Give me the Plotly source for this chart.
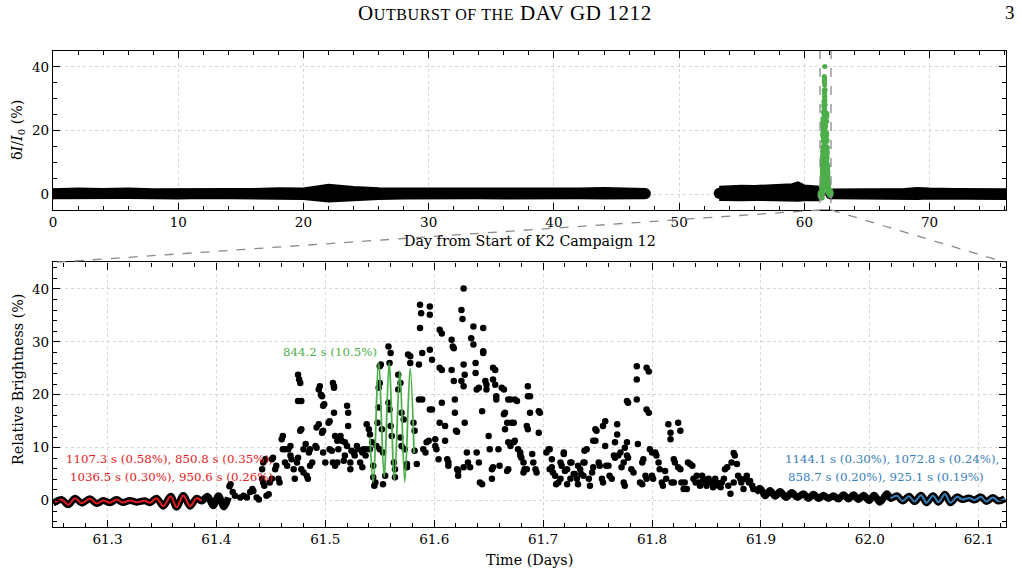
import plotly.graph_objects as go

SERIF = "DejaVu Serif"
RED, GREEN, BLUE = "#e41a1c", "#4daf4a", "#377eb8"

# ---------------- top panel: full campaign light curve (band envelopes) ----------------
seg1_x = [0, 2, 4, 6, 8, 10, 12, 14, 16, 18, 20, 22, 24, 26, 28, 30, 32, 34, 36, 38, 40, 42, 44, 46, 47.3]
seg1_up = [1.6, 1.8, 1.7, 1.8, 1.6, 1.7, 1.8, 1.7, 1.7, 1.9, 1.8, 3.0, 2.3, 1.9, 1.8, 1.8, 1.9, 1.7, 1.8, 1.9, 1.8, 1.8, 2.0, 1.9, 1.7]
seg1_lo = [-1.4, -1.3, -1.4, -1.3, -1.4, -1.5, -1.3, -1.4, -1.5, -1.4, -1.6, -2.4, -2.0, -1.6, -1.5, -1.4, -1.5, -1.4, -1.5, -1.4, -1.5, -1.4, -1.5, -1.5, -1.4]

seg2_x = [53.2, 54, 55, 56, 57, 58, 59, 59.5, 60, 61.2]
seg2_up = [2.4, 2.6, 2.7, 2.6, 2.8, 2.9, 3.2, 3.8, 2.8, 2.4]
seg2_lo = [-1.9, -2.0, -2.0, -1.9, -2.0, -2.1, -2.1, -2.2, -2.0, -2.0]

seg3_x = [62.1, 64, 66, 68, 69, 70, 72, 74, 76.1]
seg3_up = [1.5, 1.5, 1.6, 1.7, 2.0, 1.8, 1.7, 1.6, 1.6]
seg3_lo = [-1.4, -1.5, -1.5, -1.5, -1.6, -1.5, -1.5, -1.6, -1.6]

# ---------------- lower panel: outburst on day ~61.5 ----------------
# quiet pre-outburst pulsation (extrema) + 4-mode fit (red)
red_x = [61.2518, 61.2579, 61.2640, 61.2702, 61.2763, 61.2839, 61.2901, 61.2962, 61.3023, 61.3084,
         61.3139, 61.3207, 61.3268, 61.3344, 61.3390, 61.3451, 61.3513, 61.3580, 61.3635, 61.3696,
         61.3758, 61.3819, 61.3865]
red_y = [-0.31, 0.2, -0.81, 0.45, -0.49, 0.32, -0.56, 0.01, -0.43, 0.2,
         -0.37, 0.01, -0.31, -0.05, -0.43, 0.45, -1.06, 0.82, -1.25, 0.95,
         -1.06, 0.45, -0.1]
pre_x = [61.392, 61.397, 61.402, 61.407, 61.411]
pre_y = [0.8, -1.0, 0.9, -1.2, 0.6]

# quiet post-outburst pulsation + 4-mode fit (blue)
post_x = [61.8947, 61.8993, 61.9039, 61.9084, 61.9130, 61.9176, 61.9231, 61.9283, 61.9335, 61.9390,
          61.9436, 61.9482, 61.9528, 61.9574, 61.9620, 61.9666, 61.9712, 61.9758, 61.9804, 61.9850,
          61.9896, 61.9941, 61.9993, 62.0039, 62.0094, 62.0156]
post_y = [1.5, 2.3, 0.9, 1.9, 0.8, 1.7, 0.6, 1.5, 0.6, 1.3,
          0.4, 1.2, 0.4, 1.0, 0.4, 0.9, 0.3, 1.1, 0.3, 1.1,
          0.2, 1.0, 0.0, 1.0, -0.3, 1.3]
blue_x = [62.019, 62.025, 62.030, 62.036, 62.041, 62.047, 62.052, 62.058, 62.063, 62.069,
          62.074, 62.080, 62.085, 62.091, 62.096, 62.102, 62.107, 62.113, 62.118, 62.124]
blue_y = [0.4, 0.9, -0.1, 0.8, -0.2, 1.0, -0.4, 0.9, -0.3, 1.2,
          -0.4, 0.7, 0.2, 0.5, 0.1, 0.7, -0.2, 0.6, -0.1, 0.4]

# single-mode fit during outburst (green, 844.2 s)
green_x = [61.541, 61.544, 61.549, 61.554, 61.5586, 61.5635, 61.5684, 61.573, 61.5779, 61.5815]
green_y = [12, 3.5, 26, 4.5, 26, 3.8, 24.5, 3.5, 25, 9]

# outburst photometry
rise_x = [61.412, 61.413, 61.415, 61.417, 61.422, 61.425, 61.428, 61.431, 61.433, 61.434,
          61.437, 61.439, 61.442, 61.443, 61.444, 61.443, 61.445, 61.442, 61.446, 61.448,
          61.449, 61.451, 61.451, 61.452, 61.454, 61.455, 61.457, 61.458, 61.460, 61.461,
          61.461, 61.463, 61.463, 61.465, 61.466, 61.468, 61.468, 61.469, 61.471, 61.472,
          61.474, 61.475, 61.475, 61.476, 61.477, 61.475, 61.478, 61.477, 61.478, 61.478,
          61.480, 61.480, 61.482, 61.483, 61.484, 61.485, 61.486, 61.486, 61.488, 61.491,
          61.492, 61.492, 61.494, 61.494, 61.495, 61.497, 61.496, 61.497, 61.498, 61.498,
          61.499, 61.498, 61.500, 61.503, 61.504, 61.504, 61.506, 61.507, 61.508, 61.508,
          61.508, 61.507, 61.509, 61.509, 61.511]
rise_y = [2.7, 3.1, 1.6, 0.9, 0.6, 0.9, 0.6, 1.6, 2.2, 1.8,
          0.6, 0.2, 4.1, 3.4, 2.8, 7.2, 7.8, 5.9, 0.9, 1.2,
          3.4, 4.1, 7.8, 8.1, 5.9, 6.6, 4.1, 3.4, 11.6, 12.2,
          9.7, 9.7, 7.2, 6.6, 9.7, 10.3, 8.5, 7.8, 5.9, 4.1,
          7.2, 8.1, 23.8, 22.9, 22.2, 18.8, 18.8, 13.2, 13.5, 5.9,
          5.3, 9.7, 10.7, 4.7, 4.1, 9.1, 9.7, 6.6, 7.2, 10.3,
          10.0, 13.8, 14.4, 21.0, 21.6, 19.7, 20.0, 12.8, 13.2, 17.9,
          18.2, 9.1, 7.2, 14.7, 15.0, 9.7, 9.4, 22.2, 21.6, 21.3,
          16.6, 7.2, 6.6, 12.2, 11.3]

peak_x = [61.512, 61.511, 61.514, 61.515, 61.517, 61.518, 61.520, 61.521, 61.521, 61.523,
          61.523, 61.518, 61.520, 61.524, 61.526, 61.527, 61.529, 61.530, 61.532, 61.534,
          61.534, 61.535, 61.537, 61.538, 61.538, 61.540, 61.541, 61.541, 61.543, 61.544,
          61.544, 61.545, 61.546, 61.547, 61.548, 61.549, 61.549, 61.550, 61.550, 61.551,
          61.552, 61.550, 61.553, 61.555, 61.553, 61.558, 61.560, 61.559, 61.558, 61.559,
          61.560, 61.561, 61.563, 61.564, 61.564, 61.567, 61.569, 61.567, 61.569, 61.570,
          61.570, 61.572, 61.573, 61.575, 61.575, 61.576, 61.578, 61.578, 61.581, 61.582,
          61.582, 61.584, 61.586, 61.586, 61.589, 61.587, 61.588, 61.587, 61.589, 61.590,
          61.592, 61.593, 61.595, 61.596, 61.596, 61.596, 61.596, 61.598, 61.598]
peak_y = [9.7, 7.2, 12.2, 11.3, 7.5, 8.5, 17.9, 16.6, 14.1, 7.2,
          5.9, 11.0, 10.3, 9.4, 9.1, 8.5, 10.3, 9.7, 7.2, 6.3,
          9.1, 9.7, 8.5, 9.7, 14.4, 13.5, 12.5, 9.7, 11.0, 6.6,
          4.4, 2.8, 3.4, 10.3, 14.7, 17.6, 21.3, 22.2, 25.4, 25.7,
          13.5, 9.7, 9.1, 4.7, 3.1, 29.1, 27.9, 26.0, 18.5, 17.2,
          14.1, 12.2, 7.2, 5.9, 4.4, 23.8, 22.2, 21.0, 11.9, 10.3,
          16.6, 15.3, 9.7, 6.3, 6.9, 27.6, 27.3, 26.0, 14.7, 13.2,
          9.4, 6.9, 25.7, 19.1, 19.1, 32.6, 35.4, 37.0, 27.9, 9.7,
          9.1, 11.0, 11.3, 36.7, 35.1, 28.5, 17.2, 17.2, 26.6]

fade_x = [61.601, 61.601, 61.602, 61.604, 61.605, 61.607, 61.605, 61.607, 61.605, 61.607,
          61.610, 61.610, 61.612, 61.613, 61.613, 61.616, 61.617, 61.618, 61.616, 61.618,
          61.619, 61.619, 61.620, 61.621, 61.621, 61.622, 61.622, 61.625, 61.627, 61.627,
          61.627, 61.628, 61.630, 61.625, 61.626, 61.627, 61.628, 61.631, 61.633, 61.634,
          61.636, 61.636, 61.638, 61.638, 61.639, 61.641, 61.642, 61.644, 61.639, 61.641,
          61.644, 61.645, 61.645, 61.645, 61.647, 61.648, 61.648, 61.650, 61.651, 61.653,
          61.653, 61.654, 61.654, 61.656, 61.654, 61.656, 61.657, 61.657, 61.659, 61.660,
          61.662, 61.664, 61.664, 61.665, 61.665, 61.667, 61.667, 61.668, 61.668, 61.670,
          61.668, 61.670, 61.671, 61.673, 61.673, 61.674, 61.674, 61.676, 61.677, 61.679,
          61.679, 61.680, 61.682, 61.682, 61.683, 61.685, 61.685, 61.686, 61.686, 61.686,
          61.688, 61.688, 61.690, 61.691, 61.693, 61.694, 61.696, 61.697, 61.696]
fade_y = [11.6, 10.3, 9.7, 7.8, 32.3, 31.6, 25.1, 24.7, 14.7, 18.5,
          14.1, 11.3, 7.8, 6.6, 7.2, 30.4, 29.1, 28.8, 24.7, 22.6,
          19.1, 16.6, 13.2, 13.0, 5.9, 5.6, 4.7, 22.6, 25.7, 6.3,
          21.6, 14.7, 9.1, 36.0, 34.3, 40.1, 23.8, 7.2, 6.3, 30.7,
          32.9, 29.5, 24.1, 26.0, 9.1, 7.2, 3.4, 3.1, 21.0, 21.3,
          16.9, 32.6, 28.2, 27.9, 22.6, 21.0, 21.9, 12.2, 9.7, 5.9,
          4.1, 6.3, 25.1, 24.7, 22.9, 21.9, 19.7, 19.1, 9.7, 6.6,
          21.3, 21.0, 16.3, 16.6, 13.5, 14.7, 5.6, 5.9, 11.0, 10.3,
          19.1, 19.1, 14.7, 14.7, 11.0, 11.3, 19.1, 18.8, 9.7, 9.1,
          8.5, 8.1, 7.2, 5.3, 5.9, 5.9, 14.1, 13.5, 21.6, 19.7,
          19.7, 16.6, 8.8, 7.2, 5.9, 5.3, 16.9, 16.6, 12.8]

tail_x = [61.703, 61.705, 61.706, 61.708, 61.706, 61.708, 61.709, 61.711, 61.712, 61.714,
          61.716, 61.716, 61.717, 61.719, 61.719, 61.720, 61.722, 61.722, 61.725, 61.725,
          61.726, 61.728, 61.729, 61.731, 61.732, 61.732, 61.734, 61.735, 61.737, 61.737,
          61.738, 61.738, 61.740, 61.742, 61.743, 61.745, 61.746, 61.746, 61.748, 61.748,
          61.749, 61.751, 61.752, 61.754, 61.755, 61.755, 61.757, 61.757, 61.758, 61.760,
          61.761, 61.763, 61.765, 61.766, 61.766, 61.768, 61.768, 61.769, 61.771, 61.772,
          61.774, 61.774, 61.775, 61.775, 61.777, 61.777, 61.778, 61.777, 61.778, 61.781,
          61.783, 61.786, 61.786, 61.786, 61.795, 61.797, 61.795, 61.797, 61.787, 61.791,
          61.792, 61.789, 61.791, 61.794, 61.795, 61.798, 61.800, 61.800, 61.801, 61.803,
          61.804, 61.806, 61.807, 61.809, 61.810, 61.812, 61.813, 61.815, 61.817, 61.817,
          61.818, 61.820, 61.820, 61.821, 61.824, 61.826, 61.824, 61.826, 61.827, 61.829,
          61.830, 61.832, 61.833, 61.835, 61.837, 61.838, 61.840, 61.841, 61.843, 61.844,
          61.846, 61.847, 61.849, 61.850, 61.852, 61.853, 61.855, 61.856, 61.858, 61.859,
          61.861, 61.863, 61.864, 61.866, 61.867, 61.869, 61.870, 61.872, 61.873, 61.875,
          61.876, 61.875, 61.878, 61.879, 61.881, 61.882, 61.884, 61.886, 61.887, 61.889,
          61.890, 61.892, 61.893]
tail_y = [9.1, 9.7, 9.7, 7.8, 5.9, 6.3, 5.3, 4.7, 3.1, 3.4,
          4.1, 7.2, 6.6, 9.1, 8.8, 5.6, 5.9, 3.1, 4.1, 7.2,
          7.2, 5.0, 5.0, 4.1, 3.1, 6.6, 5.9, 5.0, 4.7, 7.2,
          7.2, 9.4, 9.7, 4.1, 2.8, 5.3, 6.3, 11.3, 11.3, 13.5,
          13.2, 7.2, 6.6, 4.1, 3.4, 14.1, 15.0, 10.3, 6.6, 6.6,
          4.7, 4.1, 8.5, 8.1, 11.0, 12.5, 14.4, 8.5, 9.1, 6.3,
          7.2, 3.4, 2.8, 10.0, 11.0, 18.8, 18.5, 8.5, 8.1, 5.9,
          5.3, 25.4, 22.9, 19.1, 25.1, 24.4, 17.2, 16.6, 10.7, 7.2,
          7.8, 3.4, 3.1, 4.7, 4.1, 9.7, 9.1, 4.7, 4.1, 9.1,
          8.5, 7.2, 5.9, 3.4, 2.8, 5.6, 4.1, 14.4, 12.8, 11.6,
          3.4, 3.4, 7.8, 7.2, 14.7, 13.2, 6.3, 5.9, 3.4, 2.2,
          3.4, 2.2, 7.2, 6.9, 6.6, 4.1, 3.4, 4.7, 3.4, 2.8,
          4.7, 4.1, 3.4, 2.8, 4.1, 3.4, 3.4, 2.5, 4.1, 3.4,
          2.8, 2.5, 3.4, 4.1, 5.9, 6.3, 2.8, 1.3, 7.2, 9.0,
          8.5, 3.4, 6.9, 4.7, 4.1, 3.4, 2.2, 4.1, 4.7, 3.4,
          3.7, 2.8, 2.2]

top_xticks = [0, 10, 20, 30, 40, 50, 60, 70]
top_yticks = [0, 20, 40]
low_xticks = [61.3, 61.4, 61.5, 61.6, 61.7, 61.8, 61.9, 62.0, 62.1]
low_yticks = [0, 10, 20, 30, 40]

red_label = ["1107.3 s (0.58%), 850.8 s (0.35%),", "1036.5 s (0.30%), 950.6 s (0.26%)"]
blue_label = ["1144.1 s (0.30%), 1072.8 s (0.24%),", "858.7 s (0.20%), 925.1 s (0.19%)"]
green_label = "844.2 s (10.5%)"

burst_x = rise_x + peak_x + fade_x + tail_x
burst_y = rise_y + peak_y + fade_y + tail_y
for a, b in [(rise_x, rise_y), (peak_x, peak_y), (fade_x, fade_y), (tail_x, tail_y)]:
    assert len(a) == len(b), (len(a), len(b))

fig = go.Figure()
skip = dict(showlegend=False, hoverinfo="skip")

# --- top panel band
for xs, up, lo in [(seg1_x, seg1_up, seg1_lo), (seg2_x, seg2_up, seg2_lo), (seg3_x, seg3_up, seg3_lo)]:
    fig.add_trace(go.Scatter(x=xs, y=up, mode="lines", line=dict(color="black", width=1.5),
                             xaxis="x", yaxis="y", **skip))
    fig.add_trace(go.Scatter(x=xs, y=lo, mode="lines", line=dict(color="black", width=1.5),
                             fill="tonexty", fillcolor="black", xaxis="x", yaxis="y", **skip))
    fig.add_trace(go.Scatter(x=[xs[0], xs[-1]],
                             y=[(up[0] + lo[0]) / 2, (up[-1] + lo[-1]) / 2],
                             mode="markers", marker=dict(color="black", size=11),
                             xaxis="x", yaxis="y", **skip))
fig.add_trace(go.Scatter(x=red_x + pre_x + burst_x + post_x + blue_x,
                         y=red_y + pre_y + burst_y + post_y + blue_y,
                         mode="markers", marker=dict(color=GREEN, size=5),
                         xaxis="x", yaxis="y", **skip))

# --- lower panel
fig.add_trace(go.Scatter(x=[61.25] + red_x + pre_x, y=[-0.5] + red_y + pre_y, mode="lines",
                         line=dict(color="black", width=7, shape="spline"),
                         xaxis="x2", yaxis="y2", **skip))
fig.add_trace(go.Scatter(x=post_x + blue_x, y=post_y + blue_y, mode="lines",
                         line=dict(color="black", width=7, shape="spline"),
                         xaxis="x2", yaxis="y2", **skip))
fig.add_trace(go.Scatter(x=burst_x, y=burst_y, mode="markers",
                         marker=dict(color="black", size=6.5),
                         xaxis="x2", yaxis="y2", **skip))
fig.add_trace(go.Scatter(x=red_x, y=red_y, mode="lines",
                         line=dict(color=RED, width=2, shape="spline"),
                         xaxis="x2", yaxis="y2", **skip))
fig.add_trace(go.Scatter(x=green_x, y=green_y, mode="lines",
                         line=dict(color=GREEN, width=1.8, shape="spline"),
                         xaxis="x2", yaxis="y2", **skip))
fig.add_trace(go.Scatter(x=blue_x, y=blue_y, mode="lines",
                         line=dict(color=BLUE, width=2, shape="spline"),
                         xaxis="x2", yaxis="y2", **skip))

tickfont = dict(family=SERIF, size=13.5, color="black")


def ax(**kw):
    base = dict(showline=True, linecolor="black", linewidth=1.3, mirror="allticks",
                ticks="inside", ticklen=7, tickwidth=1.1, tickcolor="black",
                showgrid=True, gridcolor="#d6d6d6", griddash="dot", gridwidth=1,
                zeroline=False, tickfont=tickfont, fixedrange=True)
    base.update(kw)
    return base


TOP_LOW = 0.666
LOW_TOP = 0.5557
XMAX = 76.1
fig.update_layout(
    width=1022, height=576,
    margin=dict(l=53, r=16, t=51, b=49),
    paper_bgcolor="white", plot_bgcolor="white",
    xaxis=ax(domain=[0, 1], anchor="y", range=[0, XMAX], tickmode="array", tickvals=top_xticks,
             minor=dict(dtick=2, tick0=0, ticks="inside", ticklen=4, tickwidth=1, tickcolor="black", showgrid=False)),
    yaxis=ax(domain=[TOP_LOW, 1], anchor="x", range=[-5, 45], tickmode="array", tickvals=top_yticks,
             minor=dict(dtick=5, tick0=0, ticks="inside", ticklen=4, tickwidth=1, tickcolor="black", showgrid=False)),
    xaxis2=ax(domain=[0, 1], anchor="y2", range=[61.25, 62.125], tickmode="array", tickvals=low_xticks,
              ticktext=["%.1f" % v for v in low_xticks],
              minor=dict(dtick=0.02, tick0=61.3, ticks="inside", ticklen=4, tickwidth=1, tickcolor="black", showgrid=False)),
    yaxis2=ax(domain=[0, LOW_TOP], anchor="x2", range=[-5, 45], tickmode="array", tickvals=low_yticks,
              minor=dict(dtick=2, tick0=0, ticks="inside", ticklen=4, tickwidth=1, tickcolor="black", showgrid=False)),
)

dash = dict(color="#8a8a8a", width=1.3, dash="dash")
fig.add_shape(type="rect", xref="x", yref="y", x0=61.25, x1=62.125, y0=-5, y1=45, line=dash)
fig.add_shape(type="line", xref="paper", yref="paper", x0=61.25 / XMAX, y0=TOP_LOW, x1=0, y1=LOW_TOP, line=dash)
fig.add_shape(type="line", xref="paper", yref="paper", x0=62.125 / XMAX, y0=TOP_LOW, x1=1, y1=LOW_TOP, line=dash)

ann = []
title_html = ('<span style="font-size:21px;letter-spacing:0.6px">O</span>'
              '<span style="font-size:16px;letter-spacing:0.6px">UTBURST OF THE</span>'
              '<span style="font-size:21px;letter-spacing:0.6px"> DAV GD 1212</span>')
ann.append(dict(text=title_html, xref="paper", yref="paper", x=0.474, y=1.08, showarrow=False,
                font=dict(family="Liberation Serif", size=21, color="black"), xanchor="center", yanchor="middle"))
ann.append(dict(text="3", xref="paper", yref="paper", x=1.004, y=1.08, showarrow=False,
                font=dict(family="Liberation Serif", size=19, color="black"), xanchor="center", yanchor="middle"))
title_font = dict(family=SERIF, size=14.3, color="black")
ann.append(dict(text="Day from Start of K2 Campaign 12", xref="paper", yref="paper", x=0.5, y=0.601,
                showarrow=False, font=title_font, yanchor="middle"))
ann.append(dict(text="Time (Days)", xref="paper", yref="paper", x=0.5, y=-0.069,
                showarrow=False, font=title_font, yanchor="middle"))
ann.append(dict(text="δ<i>I</i>/<i>I</i><sub>0</sub> (%)", xref="paper", yref="paper", x=-0.0367, y=0.834,
                textangle=-90, showarrow=False, font=title_font,
                xanchor="center", yanchor="middle"))
ann.append(dict(text="Relative Brightness (%)", xref="paper", yref="paper", x=-0.0367, y=0.309,
                textangle=-90, showarrow=False, font=title_font,
                xanchor="center", yanchor="middle"))
lab_font = dict(family=SERIF, size=11.8)
ann.append(dict(text=red_label[0], xref="x2", yref="y2", x=61.357, y=7.8, showarrow=False,
                font=dict(lab_font, color=RED)))
ann.append(dict(text=red_label[1], xref="x2", yref="y2", x=61.359, y=4.5, showarrow=False,
                font=dict(lab_font, color=RED)))
ann.append(dict(text=blue_label[0], xref="x2", yref="y2", x=62.0204, y=7.8, showarrow=False,
                font=dict(lab_font, color=BLUE)))
ann.append(dict(text=blue_label[1], xref="x2", yref="y2", x=62.015, y=4.5, showarrow=False,
                font=dict(lab_font, color=BLUE)))
ann.append(dict(text=green_label, xref="x2", yref="y2", x=61.504, y=28.1, showarrow=False,
                font=dict(lab_font, color=GREEN)))
fig.update_layout(annotations=ann)

fig.write_html("out.html")
